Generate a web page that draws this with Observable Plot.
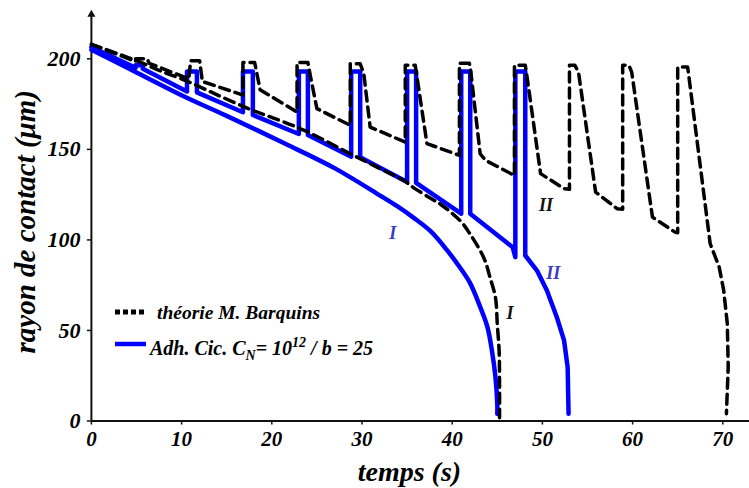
<!DOCTYPE html>
<html>
<head>
<meta charset="utf-8">
<script src="https://cdn.jsdelivr.net/npm/d3@7"></script>
<script src="https://cdn.jsdelivr.net/npm/@observablehq/plot@0.6"></script>
<style>
  html, body { margin: 0; padding: 0; background: #fff; }
  #wrap { position: relative; width: 749px; height: 488px; overflow: hidden; }
  #legend { position: absolute; left: 0; top: 0; pointer-events: none; }
  #legend text { font-family: "Liberation Serif", "Times New Roman", serif; font-weight: bold; font-style: italic; fill: #000; }
</style>
</head>
<body>
<div id="wrap"></div>
<script>
// ---- data ----
const xTicks = [0, 10, 20, 30, 40, 50, 60, 70];
const yTicks = [0, 50, 100, 150, 200];

// Theory (M. Barquins), curve I
const theoryI_t = [0, 5, 7.5, 10.4, 14, 17.4, 19.9, 23.6, 28.7, 32, 34.6, 35.7, 37.6, 38.7, 40.9, 42.0, 43.5, 44.2, 44.8, 45.0, 45.2, 45.25, 45.25];
const theoryI_r = [208, 199, 193.6, 188.1, 180, 172.5, 167.8, 160.5, 147.6, 139.4, 132.9, 128.9, 123, 119.7, 110.5, 103.1, 90.2, 79.2, 68.1, 53.4, 38.7, 20.3, 1.8];

// Theory (M. Barquins), cyclic curve II
const theoryII_t = [0, 4.9, 4.9, 6.2, 6.4, 10.8, 11.0, 12.0, 12.3, 16.8, 16.8, 18.1, 18.7, 22.8, 22.8, 24.0, 24.3, 25.0, 28.7, 28.7, 29.8, 30.2, 30.9, 34.8, 34.8, 35.9, 37.2, 40.8, 40.8, 41.9, 42.0, 43.1, 43.7, 46.9, 46.9, 48.1, 48.3, 49.8, 52.4, 53.0, 53.0, 53.6, 54.0, 55.9, 58.3, 58.9, 58.9, 59.6, 59.9, 62.2, 64.7, 65.0, 65.0, 66.1, 66.2, 68.6, 69.6, 70.1, 70.5, 70.6, 70.4];
const theoryII_r = [208, 198.5, 200, 200, 197.5, 189, 199, 199, 187.5, 180, 198, 198, 183, 170.6, 198, 198, 190, 172.5, 163.3, 197.3, 197.3, 191.8, 162.3, 154, 196.5, 196.5, 153.2, 146.7, 197.5, 197.5, 195.5, 147.6, 143.9, 135.6, 196.4, 196.4, 190, 136.6, 128.3, 128, 196.4, 196.4, 192.7, 126.4, 117.2, 117, 196.4, 196.4, 192.7, 112.6, 104.3, 104, 195.5, 195.5, 191.8, 97.9, 85, 72.1, 53.7, 29.7, 4];

// Adh. Cic. simulation, curve I
const adhI_t = [0, 5, 10.4, 15, 21.5, 27, 32.0, 33.9, 35.7, 37.6, 39.4, 40.9, 42.0, 43.1, 43.9, 44.4, 44.8, 45.0, 45.0];
const adhI_r = [205, 192.5, 178.9, 168.5, 153.1, 139.5, 124.5, 118.6, 112.3, 104.8, 94.5, 84.5, 76, 63, 52, 39, 24, 9, 3.9];

// Adh. Cic. simulation, cyclic curve II
const adhII_t = [0, 4.9, 4.9, 5.7, 5.7, 10.6, 10.6, 11.7, 11.7, 16.8, 16.8, 17.9, 17.9, 23.0, 23.0, 24.0, 24.0, 28.8, 28.8, 29.8, 29.8, 35.0, 35.0, 36.0, 36.0, 41.0, 41.0, 42.0, 42.0, 46.7, 47.0, 47.0, 48.1, 48.1, 49.4, 50.5, 51.6, 52.4, 52.8, 52.9];
const adhII_r = [206.5, 195, 196.5, 196.5, 194.5, 182, 193, 193, 181.5, 170.5, 193, 193, 169, 158.5, 193, 193, 158, 146, 193, 193, 145.7, 132, 193, 193, 131.5, 114.5, 193, 193, 114.5, 96, 90.5, 193, 193, 91.4, 83.1, 72.1, 57.3, 44.5, 29.7, 4];

// curve labels
const curveLabels = ["I", "II", "I", "II"];
const curveLabel_t = [33.4, 51.2, 46.4, 50.4];
const curveLabel_r = [103.5, 81.4, 59.4, 119];
const curveLabel_group = ["adh", "adh", "theory", "theory"];

const zip = (t, r) => t.map((d, i) => ({t: d, r: r[i]}));
const labels = curveLabels.map((s, i) => ({s, t: curveLabel_t[i], r: curveLabel_r[i], g: curveLabel_group[i]}));

const serif = "'Liberation Serif', 'Times New Roman', serif";

const plot = Plot.plot({
  width: 749,
  height: 488,
  marginLeft: 90.9,
  marginRight: 0,
  marginTop: 10,
  marginBottom: 67.5,
  x: {domain: [0, 72.96], axis: null},
  y: {domain: [0, 226.7], axis: null},
  style: {fontFamily: serif, fontWeight: "bold", fontStyle: "italic", background: "#fff", color: "#000", overflow: "visible"},
  marks: [
    // axes
    Plot.ruleY([0], {strokeWidth: 2, stroke: "#111"}),
    Plot.ruleX([0], {y1: 0, y2: 225, strokeWidth: 2, stroke: "#111"}),
    Plot.dot([0], {x: 0, y: 224.5, symbol: "triangle", r: 3, fill: "#111", stroke: null}),
    Plot.axisX({ticks: xTicks, label: null, tickSize: 4, tickPadding: 6, fontSize: 21, stroke: "#111", strokeWidth: 1.5}),
    Plot.axisY({ticks: yTicks, label: null, tickSize: 4, tickPadding: 7, fontSize: 22, stroke: "#111", strokeWidth: 1.5}),
    // simulation curves (blue)
    Plot.line(zip(adhI_t, adhI_r), {x: "t", y: "r", curve: "catmull-rom", stroke: "#0000ff", strokeWidth: 4.5, strokeLinejoin: "round", strokeLinecap: "round"}),
    Plot.line(zip(adhII_t, adhII_r), {x: "t", y: "r", stroke: "#0000ff", strokeWidth: 4.5, strokeLinejoin: "round", strokeLinecap: "round"}),
    // theory curves (black dashed)
    Plot.line(zip(theoryI_t, theoryI_r), {x: "t", y: "r", curve: "catmull-rom", stroke: "#000", strokeWidth: 3.5, strokeDasharray: "10,6", strokeLinejoin: "round"}),
    Plot.line(zip(theoryII_t, theoryII_r), {x: "t", y: "r", stroke: "#000", strokeWidth: 3.5, strokeDasharray: "10,6", strokeLinejoin: "round"}),
    // curve labels
    Plot.text(labels, {x: "t", y: "r", text: "s", fontSize: 18, fill: d => d.g === "adh" ? "#3b3bc4" : "#111"}),
    // axis titles
    Plot.text(["temps (s)"], {frameAnchor: "bottom", lineAnchor: "bottom", dx: -11, dy: 60, fontSize: 28, fill: "#000"}),
    Plot.text(["rayon de contact (μm)"], {frameAnchor: "left", textAnchor: "middle", lineAnchor: "bottom", rotate: -90, dx: -56, dy: 6, fontSize: 29, fill: "#000"})
  ]
});

const wrap = document.getElementById("wrap");
wrap.appendChild(plot);

// legend overlay (inside the plot area, bottom-left)
const ns = "http://www.w3.org/2000/svg";
const leg = document.createElementNS(ns, "svg");
leg.setAttribute("id", "legend");
leg.setAttribute("width", 749);
leg.setAttribute("height", 488);
leg.innerHTML = `
  <rect x="153" y="300" width="188" height="25" fill="#fff"/>
  <line x1="115" x2="147" y1="312" y2="312" stroke="#000" stroke-width="5" stroke-dasharray="5,3"/>
  <text x="157" y="318.5" font-size="19.5">théorie M. Barquins</text>
  <line x1="115" x2="146" y1="344" y2="344" stroke="#0000ff" stroke-width="4.5"/>
  <text x="150" y="355" font-size="20">Adh. Cic. C<tspan font-size="14" dy="5">N</tspan><tspan dy="-5">= 10</tspan><tspan font-size="14" dy="-8">12</tspan><tspan dy="8"> / b = 25</tspan></text>
`;
wrap.appendChild(leg);
</script>
</body>
</html>
